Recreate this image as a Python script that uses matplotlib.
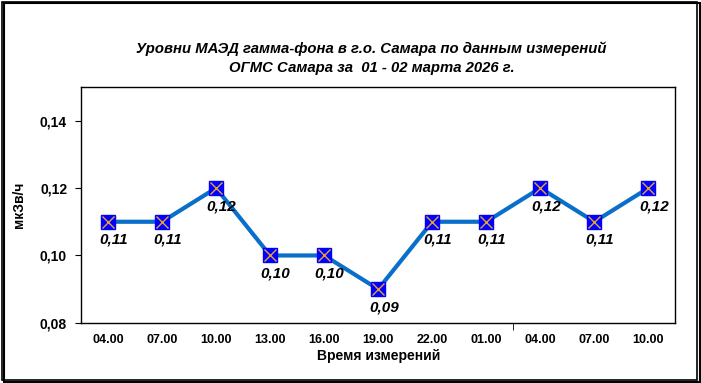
import matplotlib.pyplot as plt
from matplotlib.patches import Rectangle

plt.rcParams['font.family'] = ['Liberation Sans', 'DejaVu Sans']

times = ["04.00", "07.00", "10.00", "13.00", "16.00", "19.00", "22.00",
         "01.00", "04.00", "07.00", "10.00"]
doses = [0.11, 0.11, 0.12, 0.10, 0.10, 0.09, 0.11, 0.11, 0.12, 0.11, 0.12]
y_ticks = [0.08, 0.10, 0.12, 0.14]
day_break = 7.5  # граница суток между 01.00 и 04.00

title = ("Уровни МАЭД гамма-фона в г.о. Самара по данным измерений\n"
         "ОГМС Самара за  01 - 02 марта 2026 г.")

fig = plt.figure(figsize=(7.01, 3.83), dpi=100)
ax = fig.add_axes([0.1155, 0.157, 0.848, 0.616])

x = list(range(len(doses)))
line_col = '#0A6FC8'
ax.plot(x, doses, color=line_col, lw=3, zorder=2)
ax.plot(x, doses, ls='none', marker='s', ms=10, mfc='#0000FF',
        mec='#0000FF', zorder=3)
ax.plot(x, doses, ls='none', marker='x', ms=8, mec='#E8A030', mew=1, zorder=4)

for xi, v in zip(x, doses):
    ax.annotate(f"{v:.2f}".replace('.', ','), (xi, v), xytext=(4, -8),
                textcoords='offset points', ha='center', va='top',
                fontsize=11, fontweight='bold', fontstyle='italic')

ax.set_xlim(-0.5, len(doses) - 0.5)
ax.set_ylim(0.08, 0.15)
ax.set_yticks(y_ticks)
ax.set_yticklabels([f"{v:.2f}".replace('.', ',') for v in y_ticks],
                   fontsize=10, fontweight='bold')
ax.set_xticks(x)
ax.set_xticklabels(times, fontsize=9, fontweight='bold')
ax.tick_params(axis='x', length=0, pad=8)
ax.tick_params(axis='y', direction='out', length=4, pad=6)
ax.set_xticks([day_break], minor=True)
ax.tick_params(axis='x', which='minor', direction='out', length=5)
for s in ax.spines.values():
    s.set_linewidth(1)

ax.set_xlabel("Время измерений", fontsize=10, fontweight='bold', labelpad=2)
ax.set_ylabel("мкЗв/ч", fontsize=10, fontweight='bold')
ax.yaxis.set_label_coords(-0.092, 0.5)
fig.text(0.53, 0.847, title, ha='center', va='center', fontsize=10.7,
         fontweight='bold', fontstyle='italic', linespacing=1.45)

fig.patches.append(Rectangle((0.003, 0.008), 0.992, 0.988, transform=fig.transFigure,
                             fill=False, ec='black', lw=1.2))
fig.patches.append(Rectangle((0.005, 0.003), 0.993, 0.988, transform=fig.transFigure,
                             fill=False, ec='black', lw=1.5, zorder=-1))

fig.savefig('out.png', dpi=100)
